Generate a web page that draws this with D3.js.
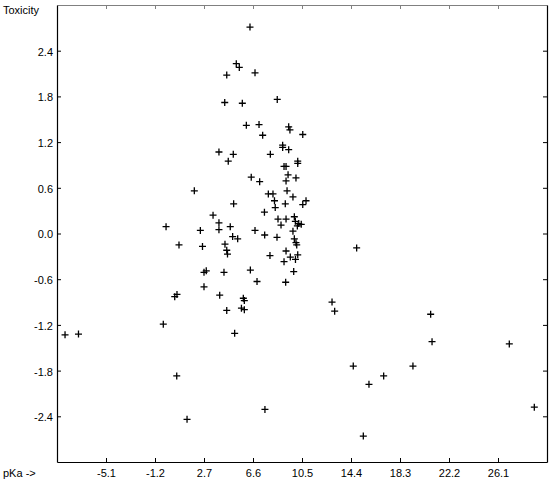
<!DOCTYPE html>
<html>
<head>
<meta charset="utf-8">
<script src="https://cdn.jsdelivr.net/npm/d3@7"></script>
<style>
  body { margin: 0; background: #fff; }
  svg { display: block; }
  text { font-family: "Liberation Sans", Arial, sans-serif; font-size: 11px; fill: #000; }
</style>
</head>
<body>
<div id="chart"></div>
<script>
// ---- data (pKa, Toxicity) ----
const pKa = [
  6.36, 5.27, 5.51, 4.51, 6.76, 4.35, 5.75, 8.53, 6.07, 7.08,
  9.44, 9.54, 7.37, 10.56, 8.96, 8.96, 9.44, 3.89, 5.03, 7.98,
  4.63, 9.07, 9.23, 10.16, 10.16, 9.39, 10.02, 6.46, 7.13, 9.23,
  1.93, 7.82, 8.19, 9.31, 9.78, 8.31, 5.06, 9.17, 10.82, 10.56,
  8.37, 7.51, 3.42, 8.59, 9.23, 9.89, 3.89, 9.97, 10.24, 10.44,
  10.13, 8.83, 4.79, -0.32, 3.89, 2.41, 6.76, 9.78, 7.53, 4.98,
  5.38, 8.51, 9.89, 10.02, 10.08, 0.71, 2.58, 4.37, 4.51, 4.57,
  9.23, 10.16, 7.95, 9.57, 9.98, 9.07, 2.70, 2.88, 4.29, 6.39,
  9.84, 6.92, 9.20, 2.70, 0.37, 0.55, 3.95, 5.83, 5.91, 5.68,
  5.91, 4.51, 5.14, -8.36, -7.29, -0.54, 0.53, 1.35, 7.55, 14.85,
  12.89, 13.10, 20.74, 20.85, 27.00, 14.58, 19.33, 17.00, 15.83, 28.99,
  15.38
];
const toxicity = [
  2.71, 2.23, 2.18, 2.08, 2.11, 1.72, 1.71, 1.76, 1.42, 1.43,
  1.40, 1.36, 1.29, 1.30, 1.16, 1.13, 1.10, 1.07, 1.04, 1.04,
  0.95, 0.88, 0.88, 0.95, 0.92, 0.77, 0.73, 0.74, 0.68, 0.69,
  0.56, 0.52, 0.52, 0.56, 0.48, 0.43, 0.39, 0.39, 0.43, 0.38,
  0.34, 0.28, 0.24, 0.19, 0.19, 0.22, 0.14, 0.16, 0.13, 0.12,
  0.10, 0.11, 0.09, 0.09, 0.05, 0.04, 0.04, 0.03, -0.02, -0.04,
  -0.07, -0.05, -0.07, -0.12, -0.15, -0.15, -0.17, -0.14, -0.22, -0.27,
  -0.23, -0.28, -0.29, -0.31, -0.34, -0.37, -0.51, -0.49, -0.51, -0.48,
  -0.50, -0.63, -0.64, -0.70, -0.83, -0.80, -0.81, -0.85, -0.88, -0.98,
  -1.00, -1.01, -1.31, -1.33, -1.32, -1.19, -1.87, -2.44, -2.31, -0.19,
  -0.90, -1.02, -1.06, -1.42, -1.45, -1.74, -1.74, -1.87, -1.98, -2.28,
  -2.66
];

const xTicks = [-5.1, -1.2, 2.7, 6.6, 10.5, 14.4, 18.3, 22.2, 26.1];
const xTickLabels = ["-5.1", "-1.2", "2.7", "6.6", "10.5", "14.4", "18.3", "22.2", "26.1"];
const yTicks = [2.4, 1.8, 1.2, 0.6, 0.0, -0.6, -1.2, -1.8, -2.4];
const yTickLabels = ["2.4", "1.8", "1.2", "0.6", "0.0", "-0.6", "-1.2", "-1.8", "-2.4"];

const points = pKa.map((v, i) => ({ x: v, y: toxicity[i] }));

// ---- layout ----
const width = 550;
const height = 482;
const plotLeft = 57, plotRight = 547, plotTop = 5, plotBottom = 462;

const svg = d3.select('#chart')
  .append('svg')
  .attr('width', width)
  .attr('height', height);

const x = d3.scaleLinear().domain([-9, 30]).range([plotLeft, plotRight]);
const y = d3.scaleLinear().domain([-3, 3]).range([plotBottom, plotTop]);

// ---- axes (ticks point inwards) ----
const gTop = svg.append('g')
  .attr('transform', `translate(0,${plotTop})`)
  .call(d3.axisTop(x).tickValues(xTicks).tickSize(-4).tickSizeOuter(0).tickFormat(''));
gTop.selectAll('path, line').attr('stroke', '#808080');

const gRight = svg.append('g')
  .attr('transform', `translate(${plotRight},0)`)
  .call(d3.axisRight(y).tickValues(yTicks).tickSize(-4).tickSizeOuter(0).tickFormat(''));
gRight.selectAll('path, line').attr('stroke', '#000');

const gBottom = svg.append('g')
  .attr('transform', `translate(0,${plotBottom})`)
  .call(d3.axisBottom(x).tickValues(xTicks).tickSize(-4).tickSizeOuter(0).tickPadding(7)
    .tickFormat((d, i) => xTickLabels[i]));

const gLeft = svg.append('g')
  .attr('transform', `translate(${plotLeft},0)`)
  .call(d3.axisLeft(y).tickValues(yTicks).tickSize(-4).tickSizeOuter(0).tickPadding(4)
    .tickFormat((d, i) => yTickLabels[i]));

[gBottom, gLeft].forEach(g => {
  g.selectAll('path, line').attr('stroke', '#000');
  g.selectAll('text')
    .attr('fill', '#000')
    .style('font-family', '"Liberation Sans", Arial, sans-serif')
    .style('font-size', '11px');
});
gLeft.selectAll('text').attr('dy', '0.4em');
svg.selectAll('.domain').attr('stroke-width', 1.2);

// ---- axis titles ----
svg.append('text').attr('x', 3).attr('y', 14).text('Toxicity');
svg.append('text').attr('x', 3).attr('y', 477).text('pKa ->');

// ---- markers ----
const arm = 3.5;
svg.append('g')
  .selectAll('path')
  .data(points)
  .enter()
  .append('path')
  .attr('d', d => {
    const px = x(d.x), py = y(d.y);
    return `M${px - arm},${py}H${px + arm}M${px},${py - arm}V${py + arm}`;
  })
  .attr('stroke', '#000')
  .attr('stroke-width', 1.3)
  .attr('fill', 'none');
</script>
</body>
</html>
